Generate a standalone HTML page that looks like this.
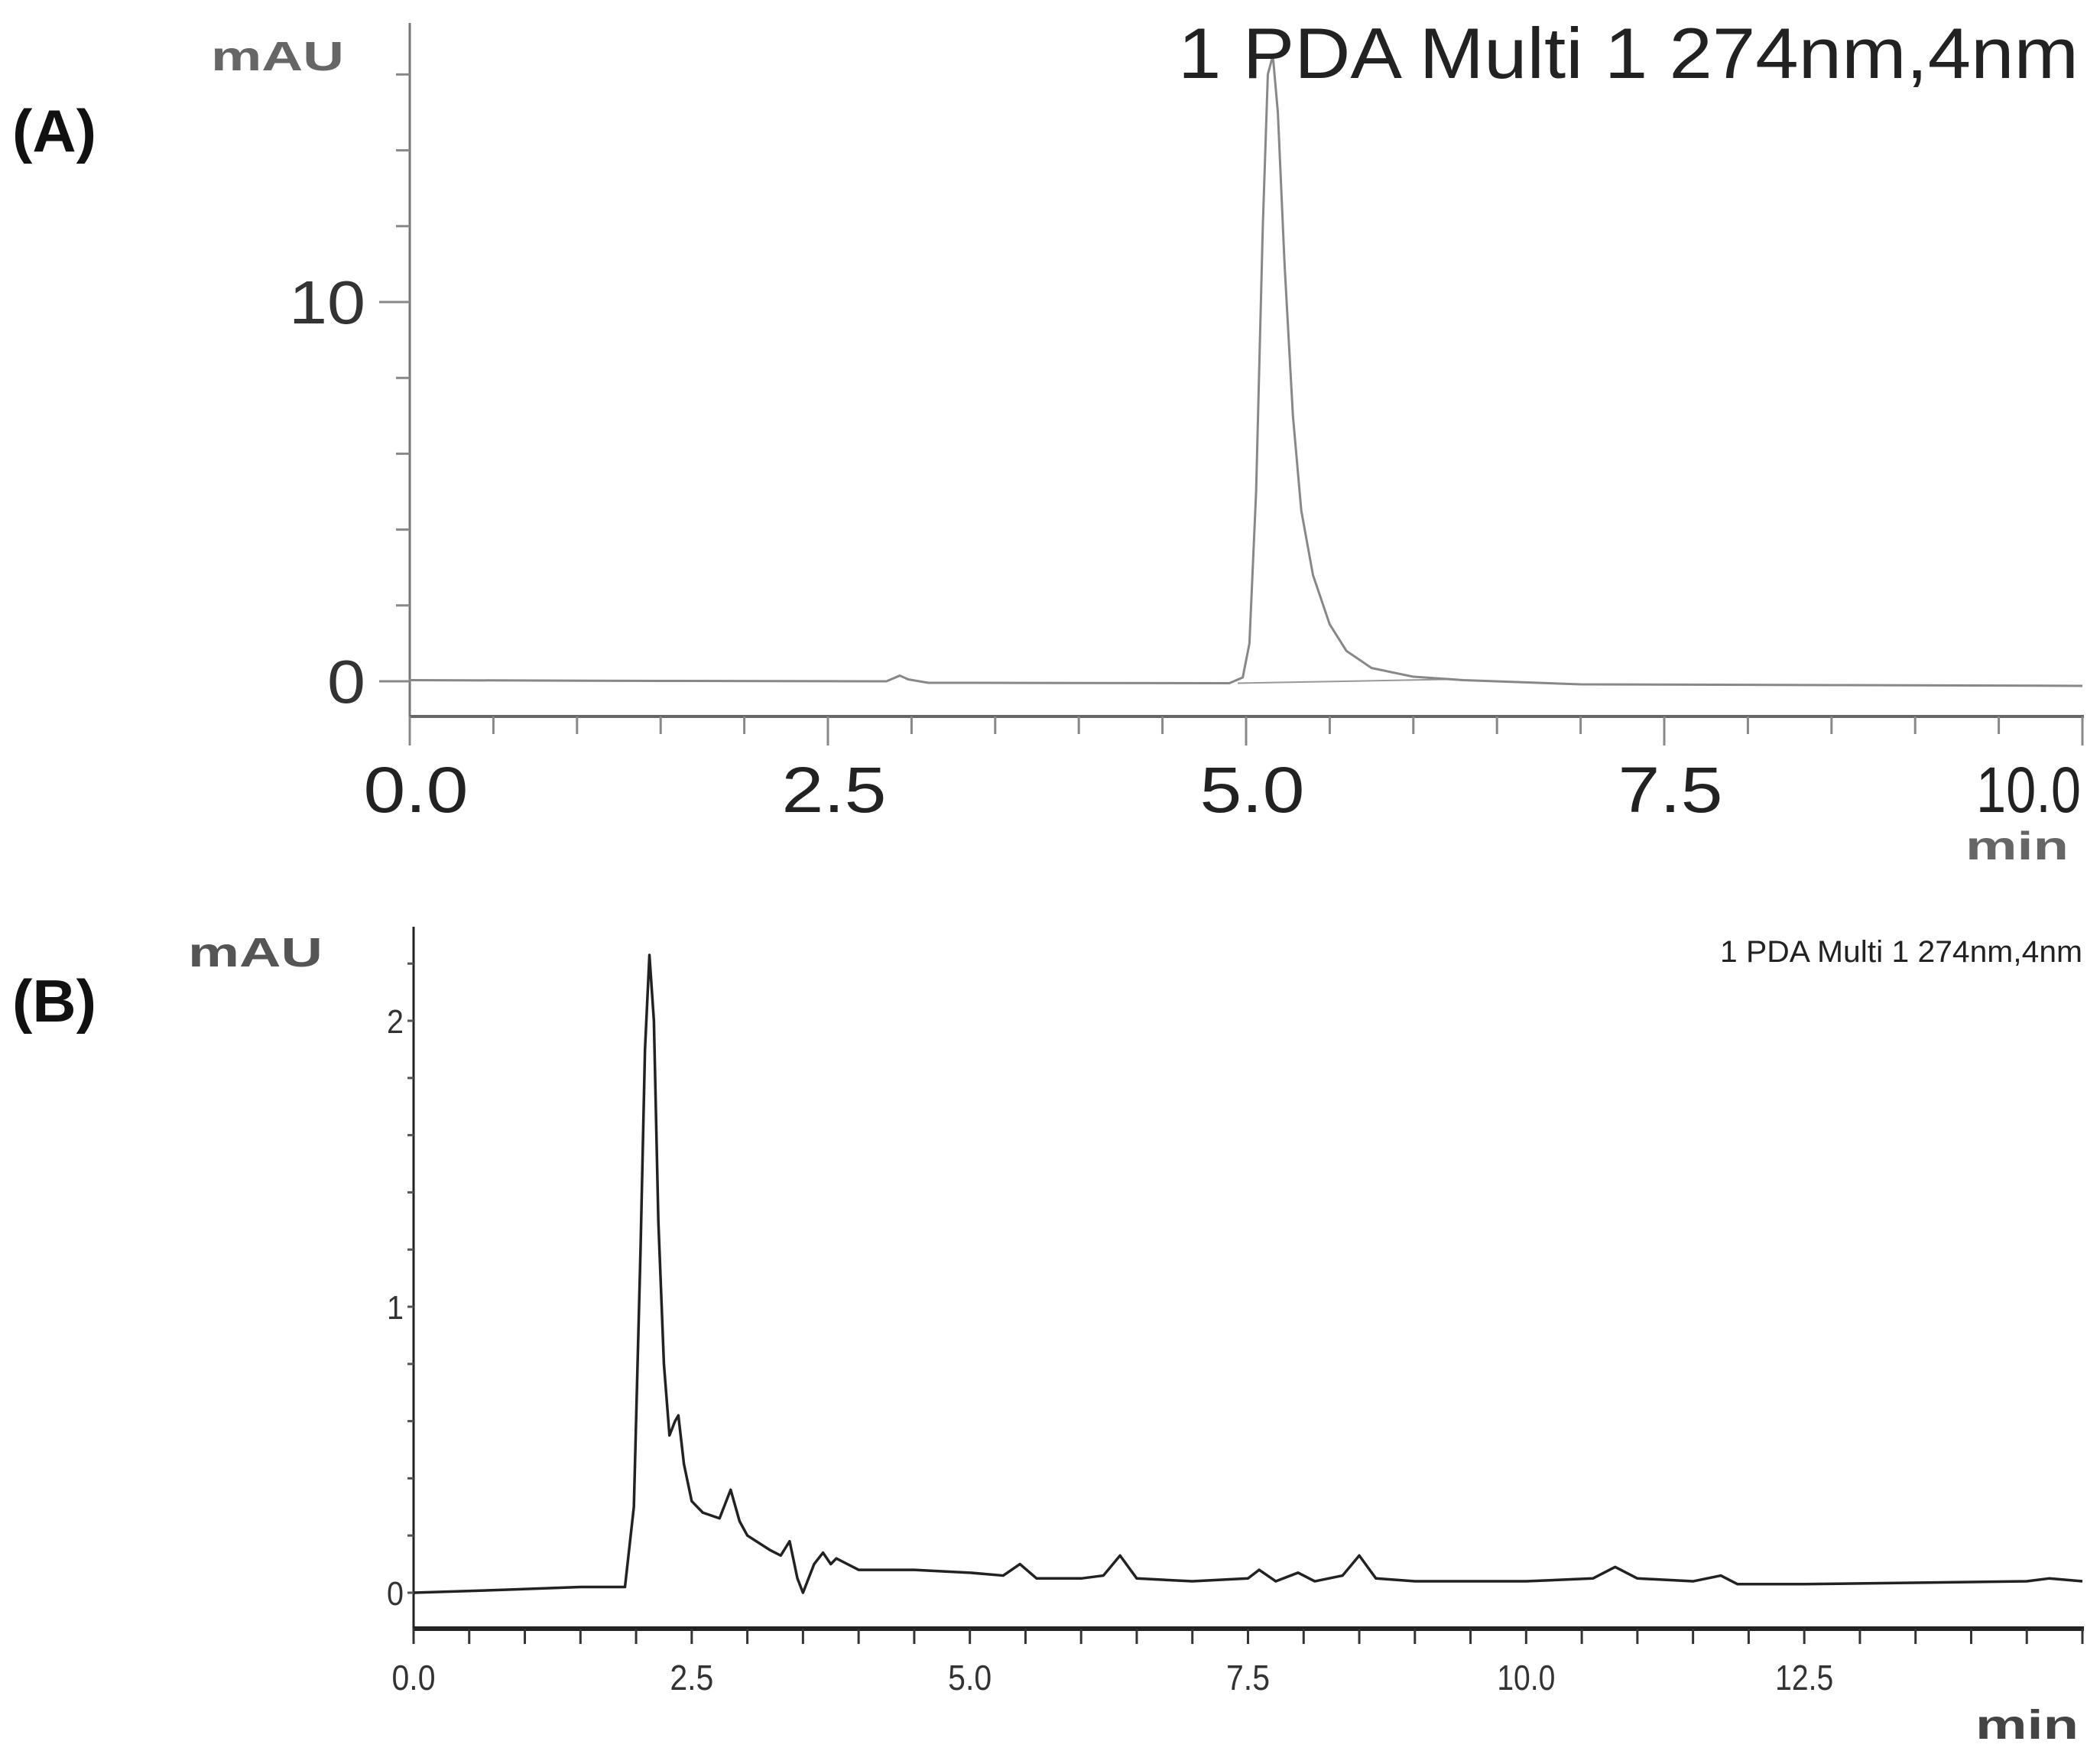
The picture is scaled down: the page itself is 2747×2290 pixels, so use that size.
<!DOCTYPE html>
<html><head><meta charset="utf-8"><style>
html,body{margin:0;padding:0;background:#fff}
svg{display:block}
text{font-family:"Liberation Sans",sans-serif}
</style></head><body>
<svg id="chart" width="2747" height="2290" viewBox="0 0 2747 2290">
<g id="gA"></g>
<g id="gB"></g>
</svg>
<script>
const NS="http://www.w3.org/2000/svg";
// Panel A data
const aTimes=[0,1.5,2.85,2.93,2.98,3.1,4.9,4.98,5.02,5.06,5.1,5.13,5.16,5.19,5.23,5.28,5.33,5.4,5.5,5.6,5.75,6.0,6.3,7,8.5,10];
const aValues=[0.03,0.01,0,0.15,0.05,-0.04,-0.05,0.1,1,5,12,16,16.5,15,11,7,4.5,2.8,1.5,0.8,0.35,0.12,0.03,-0.08,-0.1,-0.12];
const aXTicks=["0.0","2.5","5.0","7.5","10.0"];
const aYTicks=["0","10"];
// Panel B data
const bTimes=[0,0.8,1.5,1.9,1.98,2.04,2.08,2.12,2.16,2.2,2.25,2.3,2.35,2.38,2.43,2.5,2.6,2.75,2.85,2.93,3.0,3.2,3.3,3.38,3.45,3.5,3.6,3.68,3.75,3.8,4.0,4.5,5.0,5.3,5.45,5.6,6.0,6.2,6.35,6.5,7.0,7.5,7.6,7.75,7.95,8.1,8.35,8.5,8.65,9,10,10.6,10.8,11.0,11.5,11.75,11.9,12.5,14.5,14.7,15];
const bValues=[0,0.01,0.02,0.02,0.3,1.2,1.9,2.23,2.0,1.3,0.8,0.55,0.6,0.62,0.45,0.32,0.28,0.26,0.36,0.25,0.2,0.15,0.13,0.18,0.05,0.0,0.1,0.14,0.1,0.12,0.08,0.08,0.07,0.06,0.1,0.05,0.05,0.06,0.13,0.05,0.04,0.05,0.08,0.04,0.07,0.04,0.06,0.13,0.05,0.04,0.04,0.05,0.09,0.05,0.04,0.06,0.03,0.03,0.04,0.05,0.04];
const bXTicks=["0.0","2.5","5.0","7.5","10.0","12.5"];
const bYTicks=["0","1","2"];

function el(tag,attrs,parent,txt){const e=document.createElementNS(NS,tag);for(const k in attrs)e.setAttribute(k,attrs[k]);if(txt!=null)e.textContent=txt;parent.appendChild(e);return e;}

// ---- Panel A ----
const gA=document.getElementById('gA');
const axA={x0:536,x1:2724,t0:0,t1:10,y0:891,ppu:49.6};
const xA=t=>axA.x0+(t-axA.t0)/(axA.t1-axA.t0)*(axA.x1-axA.x0);
const yA=v=>axA.y0-v*axA.ppu;
let e;
e=el('line',{x1:536,y1:30,x2:536,y2:955,stroke:'#777','stroke-width':3},gA);

e=el('line',{x1:536,y1:937,x2:2726,y2:937,stroke:'#666','stroke-width':4},gA);

for(let v=0;v<=16;v+=2){e=el('line',{x1:v%10===0?496:518,y1:yA(v),x2:536,y2:yA(v),stroke:'#888','stroke-width':3},gA);}
aYTicks.forEach(s=>{e=el('text',{x:478,y:yA(+s)+28,'text-anchor':'end','font-size':80,fill:'#333',textLength:s.length*50,lengthAdjust:'spacingAndGlyphs'},gA,s);});
for(let t=0;t<=10.001;t+=0.5){e=el('line',{x1:xA(t),y1:937,x2:xA(t),y2:(Math.abs(t%2.5)<0.01)?975:960,stroke:'#888','stroke-width':3},gA);}
aXTicks.forEach((s,i)=>{const last=i===aXTicks.length-1;e=el('text',{x:last?2722:xA(+s)+8,y:1062,'text-anchor':last?'end':'middle','font-size':84,fill:'#222',textLength:137,lengthAdjust:'spacingAndGlyphs'},gA,s);});
e=el('line',{x1:xA(4.95),y1:yA(-0.05),x2:xA(6.2),y2:yA(0.05),stroke:'#999','stroke-width':2},gA);

e=el('polyline',{points:aTimes.map((t,i)=>xA(t)+','+yA(aValues[i])).join(' '),fill:'none',stroke:'#888','stroke-width':3,'stroke-linejoin':'round'},gA);

e=el('text',{x:1541,y:102,'font-size':94,fill:'#222',textLength:1178,lengthAdjust:'spacingAndGlyphs'},gA,'1 PDA Multi 1 274nm,4nm');

e=el('text',{x:276,y:92,'font-size':54,'font-weight':'bold',fill:'#666',textLength:174,lengthAdjust:'spacingAndGlyphs'},gA,'mAU');

e=el('text',{x:2571,y:1124,'font-size':52,'font-weight':'bold',fill:'#666',textLength:135,lengthAdjust:'spacingAndGlyphs'},gA,'min');

e=el('text',{x:16,y:198,'font-size':78,'font-weight':'bold',fill:'#111',textLength:110,lengthAdjust:'spacingAndGlyphs'},gA,'(A)');


// ---- Panel B ----
const gB=document.getElementById('gB');
const axB={x0:541,x1:2724,t0:0,t1:15,y0:2083,ppu:374};
const xB=t=>axB.x0+(t-axB.t0)/(axB.t1-axB.t0)*(axB.x1-axB.x0);
const yB=v=>axB.y0-v*axB.ppu;
e=el('line',{x1:541,y1:1212,x2:541,y2:2140,stroke:'#222','stroke-width':3},gB);

e=el('line',{x1:541,y1:2130,x2:2726,y2:2130,stroke:'#222','stroke-width':6},gB);

for(let v=0;v<=2.21;v+=0.2){e=el('line',{x1:533,y1:yB(v),x2:541,y2:yB(v),stroke:'#555','stroke-width':3},gB);}
bYTicks.forEach(s=>{e=el('text',{x:528,y:yB(+s)+16,'text-anchor':'end','font-size':44,fill:'#333',textLength:22,lengthAdjust:'spacingAndGlyphs'},gB,s);});
for(let t=0;t<=15.001;t+=0.5){e=el('line',{x1:xB(t),y1:2130,x2:xB(t),y2:2150,stroke:'#333','stroke-width':3},gB);}
bXTicks.forEach(s=>{e=el('text',{x:xB(+s),y:2210,'text-anchor':'middle','font-size':46,fill:'#333',textLength:s.length*19,lengthAdjust:'spacingAndGlyphs'},gB,s);});
e=el('polyline',{points:bTimes.map((t,i)=>xB(t)+','+yB(bValues[i])).join(' '),fill:'none',stroke:'#222','stroke-width':3.5,'stroke-linejoin':'round'},gB);

e=el('text',{x:2250,y:1258,'font-size':40,fill:'#222',textLength:474,lengthAdjust:'spacingAndGlyphs'},gB,'1 PDA Multi 1 274nm,4nm');

e=el('text',{x:246,y:1264,'font-size':54,'font-weight':'bold',fill:'#555',textLength:176,lengthAdjust:'spacingAndGlyphs'},gB,'mAU');

e=el('text',{x:2584,y:2274,'font-size':54,'font-weight':'bold',fill:'#444',textLength:135,lengthAdjust:'spacingAndGlyphs'},gB,'min');

e=el('text',{x:16,y:1336,'font-size':78,'font-weight':'bold',fill:'#111',textLength:110,lengthAdjust:'spacingAndGlyphs'},gB,'(B)');

</script>
</body></html>
